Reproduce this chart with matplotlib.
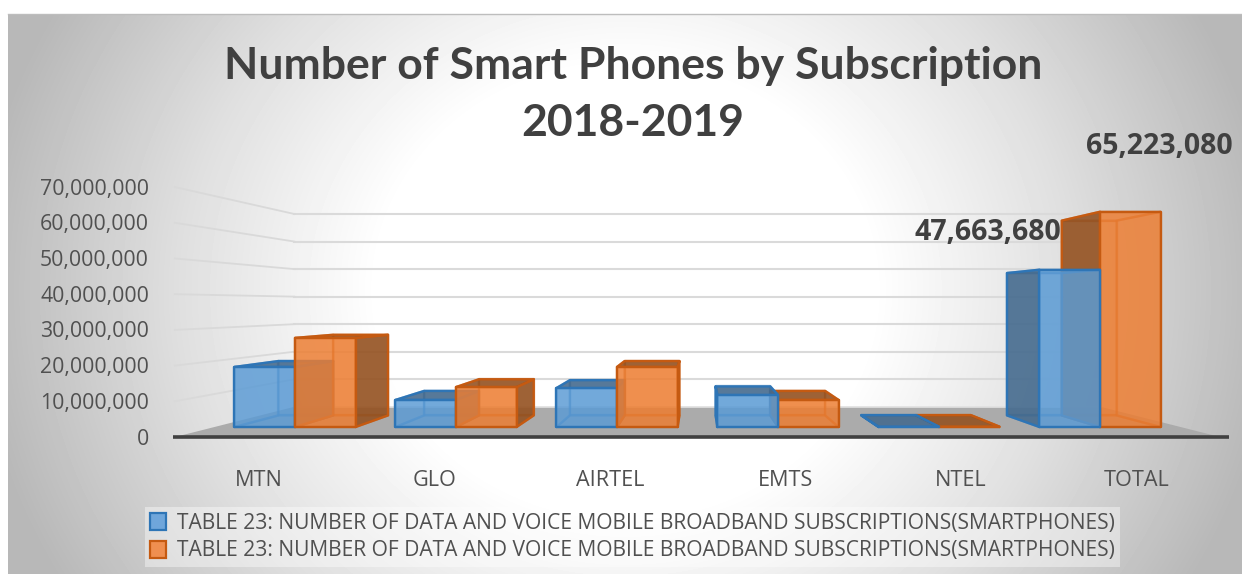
import numpy as np
import matplotlib
matplotlib.use("Agg")
import matplotlib.pyplot as plt
from matplotlib.patches import Polygon, Patch
from matplotlib.colors import to_rgba

# ---- data (values in millions) ----
categories = ["MTN", "GLO", "AIRTEL", "EMTS", "NTEL", "TOTAL"]
series_a = [18.2, 8.2, 11.8, 9.7, 0.1, 47.66368]
series_b = [27.0, 12.1, 18.2, 8.2, 0.1, 65.22308]
y_ticks = [0, 10, 20, 30, 40, 50, 60, 70]
y_tick_labels = ["0", "10,000,000", "20,000,000", "30,000,000", "40,000,000",
                 "50,000,000", "60,000,000", "70,000,000"]
label_a = "47,663,680"
label_b = "65,223,080"
legend_text = "TABLE 23: NUMBER OF DATA AND VOICE MOBILE BROADBAND SUBSCRIPTIONS(SMARTPHONES)"
title = "Number of Smart Phones by Subscription\n2018-2019"

W, H = 1242, 574
plt.rcParams["font.family"] = ["Open Sans", "DejaVu Sans"]
fig = plt.figure(figsize=(W / 100, H / 100), dpi=100, facecolor="white")

# ---- chart-area background: radial grey gradient ----
L, T = 8, 14
bg = fig.add_axes([L / W, 0, (W - L) / W, (H - T) / H], zorder=0)
yy, xx = np.mgrid[0:H - T, 0:W - L]
rx = (xx - (625 - L)) / 620.0
ry = (yy - (290 - T)) / 560.0
r = np.sqrt(rx ** 2 + ry ** 2)
stops_r = [0.0, 0.40, 0.72, 1.05]
stops_v = [1.0, 1.0, 0.875, 0.72]
img = np.interp(r, stops_r, stops_v)
bg.imshow(img, cmap="gray", vmin=0, vmax=1, aspect="auto", interpolation="bilinear")
bg.axis("off")

# ---- main axes in data units: x = category index, y = value (millions) ----
X0, PX_CAT = 295, 161.0      # pixel of category 0, pixels per category
Y0, PX_VAL = 427, 3.3        # pixel of value 0, pixels per million
ax = fig.add_axes([0, 0, 1, 1], zorder=1)
ax.patch.set_alpha(0)
ax.set_xlim(-X0 / PX_CAT, (W - X0) / PX_CAT)
ax.set_ylim(-(H - Y0) / PX_VAL, Y0 / PX_VAL)
ax.axis("off")

# thin top border of the chart area
fig.add_artist(plt.Line2D([L / W, 1], [1 - T / H, 1 - T / H], color="#BDBDBD", lw=1.0))

VX, VY = 2.5, 37.0           # vanishing point
K_WALL, K_BACK, K_FRONT, K_FLOOR = 0.835, 0.905, 1.0, 1.082
K_LABEL = 1.09
XMIN, XMAX = -0.5, 5.5
BAR_W = 0.376


def P(x, v, k):
    return (VX + k * (x - VX), VY + k * (v - VY))


# floor
ax.add_patch(Polygon([P(XMIN, 0, K_FLOOR), P(XMIN, 0, K_WALL), P(XMAX, 0, K_WALL), P(XMAX, 0, K_FLOOR)],
                     closed=True, fc="#ABABAB", ec="none", zorder=2))
ax.plot(*zip(P(XMIN, 0, K_WALL), P(XMAX, 0, K_WALL)), color="#E2E2E2", lw=1.2, zorder=2)
ax.plot([P(XMIN - 0.01, 0, K_FLOOR)[0], P(XMAX + 0.05, 0, K_FLOOR)[0]],
        [P(XMIN, 0, K_FLOOR)[1]] * 2, color="#404040", lw=2.6, solid_capstyle="butt", zorder=3)

# gridlines and tick labels
for v, lab in zip(y_ticks, y_tick_labels):
    if v > 0:
        a, b = P(XMAX, v, K_WALL), P(XMIN, v, K_WALL)
        c = P(XMIN, v, K_FLOOR)
        ax.plot([a[0], b[0]], [a[1], b[1]], color="#DADADA", lw=1.5, zorder=1)
        ax.plot([b[0], c[0]], [b[1], c[1]], color="#D9D9D9", lw=1.3, zorder=1)
    tx = P(XMIN, v, K_FLOOR)
    ax.text(tx[0] - 26 / PX_CAT, tx[1] - 2 / PX_VAL, lab, ha="right", va="center",
            fontsize=15.3, color="#505050", zorder=8)

# category labels
for i, c in enumerate(categories):
    ax.text(P(i, 0, K_LABEL)[0], -53 / PX_VAL, c, ha="center", va="center",
            fontsize=15.6, color="#505050", zorder=8)

STY = {
    "a": dict(front="#5B9BD5", dark="#44688A", edge="#2E75B6"),
    "b": dict(front="#ED7D31", dark="#8F4F20", edge="#C55A11"),
}


def draw_bar(x0, x1, v, sty, z):
    lw = 1.7

    def face(pts, fc, alpha, edge_alpha):
        ax.add_patch(Polygon(pts, closed=True, fc=to_rgba(fc, alpha), ec=to_rgba(sty["edge"], edge_alpha),
                             lw=lw, joinstyle="round", zorder=z))

    b = K_BACK
    f = K_FRONT
    back = [P(x0, 0, b), P(x1, 0, b), P(x1, v, b), P(x0, v, b)]
    bottom = [P(x0, 0, f), P(x1, 0, f), P(x1, 0, b), P(x0, 0, b)]
    left = [P(x0, 0, f), P(x0, v, f), P(x0, v, b), P(x0, 0, b)]
    right = [P(x1, 0, f), P(x1, v, f), P(x1, v, b), P(x1, 0, b)]
    top = [P(x0, v, f), P(x1, v, f), P(x1, v, b), P(x0, v, b)]
    front = [P(x0, 0, f), P(x1, 0, f), P(x1, v, f), P(x0, v, f)]
    left_ext = x0 > VX
    right_ext = x1 < VX
    top_ext = v < VY
    face(back, sty["front"], 0.35, 0.45)
    face(bottom, sty["front"], 0.25, 0.45)
    if not left_ext:
        face(left, sty["front"], 0.25, 0.45)
    if not right_ext:
        face(right, sty["front"], 0.25, 0.45)
    if not top_ext:
        face(top, sty["front"], 0.25, 0.45)
    if left_ext:
        face(left, sty["dark"], 0.85, 1.0)
    if right_ext:
        face(right, sty["dark"], 0.85, 1.0)
    if top_ext:
        face(top, sty["dark"], 0.85, 1.0)
    face(front, sty["front"], 0.78, 1.0)


z = 4.0
for i, (a, b) in enumerate(zip(series_a, series_b)):
    bars = [(i - BAR_W, i, a, STY["a"]), (i, i + BAR_W, b, STY["b"])]
    if i > VX:
        bars = bars[::-1]
    for x0, x1, v, s in bars:
        draw_bar(x0, x1, v, s, z)
        z += 0.01

# data labels
ax.text(5 - 39 / PX_CAT, series_a[5] + 11.4, label_a, ha="right", va="center",
        fontsize=20.5, fontweight="bold", color="#404040", zorder=9)
ax.text(5 + BAR_W + 72.5 / PX_CAT, series_b[5] + 19.9, label_b, ha="right", va="center",
        fontsize=20.5, fontweight="bold", color="#404040", zorder=9)

# title
fig.suptitle(title, x=633 / W, y=1 - 46 / H, ha="center", va="top", fontsize=32,
             fontweight="bold", color="#404040", linespacing=1.52, zorder=9, family=["Lato", "DejaVu Sans"])

# legend
handles = [Patch(fc="#6FA6DB", ec=STY["a"]["edge"], lw=1.6, label=legend_text),
           Patch(fc="#EF8F50", ec=STY["b"]["edge"], lw=1.6, label=legend_text)]
leg = ax.legend(handles=handles, loc="center", bbox_to_anchor=(632.5 / W, 1 - 537 / H),
                bbox_transform=fig.transFigure, ncol=1, frameon=True, fancybox=False,
                facecolor="white", edgecolor="none", framealpha=0.4, fontsize=15.1,
                labelcolor="#505050", handlelength=0.75, handleheight=0.9, handletextpad=0.5,
                labelspacing=0.33, borderpad=0.25, borderaxespad=0)
leg.set_zorder(9)

fig.savefig("out.png", dpi=100)
